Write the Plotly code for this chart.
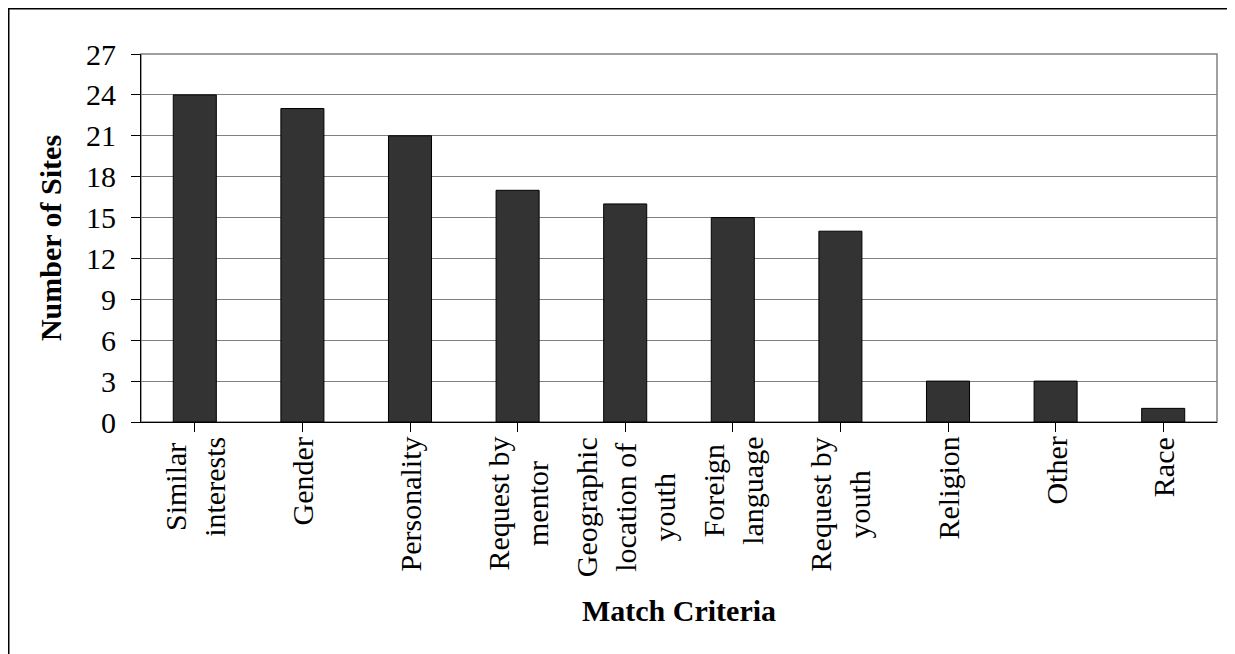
import plotly.graph_objects as go

categories = ["Similar<br>interests", "Gender", "Personality", "Request by<br>mentor",
              "Geographic<br>location of<br>youth", "Foreign<br>language",
              "Request by<br>youth", "Religion", "Other", "Race"]
sites = [24, 23, 21, 17, 16, 15, 14, 3, 3, 1]
y_ticks = [0, 3, 6, 9, 12, 15, 18, 21, 24, 27]

# page body has an 8px margin, so figure coords = screen coords - 8
W, H = 1227, 646
L, R, T, B = 133, 18, 46, 232
pw, ph = W - L - R, H - T - B

FONT = "Liberation Serif, Times New Roman, serif"

fig = go.Figure(go.Bar(
    x=list(range(len(categories))), y=sites,
    marker=dict(color="#333333", line=dict(color="#000000", width=1)),
    width=0.4,
))

# outer chart frame
fig.add_shape(type="rect", xref="paper", yref="paper",
              x0=(0.75 - L) / pw, x1=(1226 - L) / pw,
              y0=-(B + 20) / ph, y1=1 + (T - 0.75) / ph,
              line=dict(color="#000000", width=1.5), layer="below")
# plot-area border
fig.add_shape(type="rect", xref="x domain", yref="y domain", x0=0, x1=1, y0=0, y1=1,
              line=dict(color="#808080", width=1.5), layer="below")

# category labels (rotated, lines centred within each block)
for i, lab in enumerate(categories):
    fig.add_annotation(x=i, y=0, xref="x", yref="paper", text=lab,
                       textangle=-90, align="center", xanchor="center", yanchor="top",
                       yshift=-13, showarrow=False,
                       font=dict(family=FONT, size=30, color="#000000"))

# x-axis title
fig.add_annotation(x=0.5, y=0, xref="paper", yref="paper", text="<b>Match Criteria</b>",
                   xanchor="center", yanchor="middle", yshift=-188, showarrow=False,
                   font=dict(family=FONT, size=30, color="#000000"))

fig.update_layout(
    width=W, height=H,
    margin=dict(l=L, r=R, t=T, b=B, pad=0),
    paper_bgcolor="white", plot_bgcolor="white",
    font=dict(family=FONT, size=30, color="#000000"),
    showlegend=False,
    xaxis=dict(
        tickmode="array", tickvals=list(range(len(categories))),
        showticklabels=False, range=[-0.5, len(categories) - 0.5],
        showline=True, linecolor="#000000", linewidth=1,
        ticks="outside", ticklen=9, tickcolor="#000000", tickson="boundaries",
        showgrid=False, zeroline=False,
    ),
    yaxis=dict(
        range=[0, 27], tickmode="array", tickvals=y_ticks,
        showline=True, linecolor="#000000", linewidth=1,
        ticks="outside", ticklen=9, tickcolor="#000000", ticklabelstandoff=9,
        showgrid=True, gridcolor="#808080", gridwidth=1.2, zeroline=False,
        tickfont=dict(family=FONT, size=30),
        title=dict(text="<b>Number of Sites</b>", font=dict(family=FONT, size=30), standoff=15),
    ),
)

fig.write_html("out.html")
